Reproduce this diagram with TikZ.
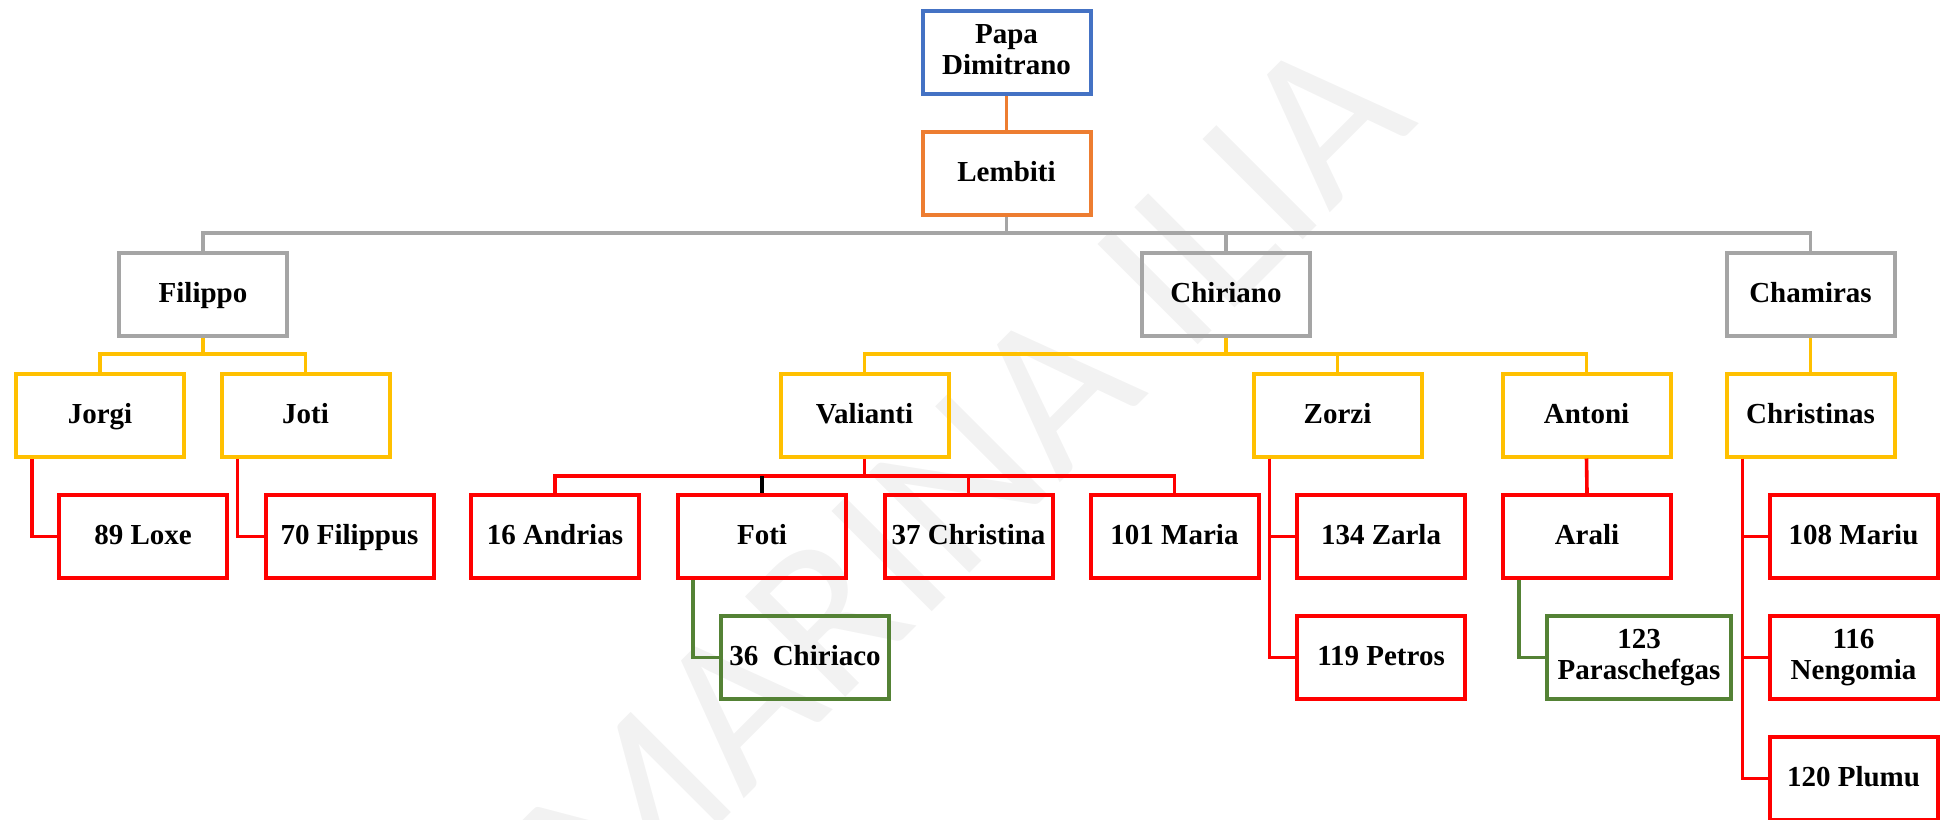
\documentclass[tikz,border=0pt]{standalone}
\usepackage{fontspec}
\setmainfont{Liberation Serif}
\newfontfamily\wmfont{Carlito}
\usepackage{tikz}
\definecolor{cblue}{RGB}{68,114,196}
\definecolor{corange}{RGB}{237,125,49}
\definecolor{cgray}{RGB}{165,165,165}
\definecolor{cyellow}{RGB}{255,192,0}
\definecolor{cred}{RGB}{255,0,0}
\definecolor{cgreen}{RGB}{84,130,53}
\newcommand{\boxstrut}{\rule[-3.45pt]{0pt}{15pt}}
\tikzset{
  font=\bfseries\fontsize{14.5}{15.5}\selectfont,
  % General person box
  pnode/.style={draw, shape=rectangle, line width=2pt, minimum width=84pt,
    minimum height=41.5pt, inner sep=1pt, align=center,
    execute at begin node=\boxstrut, execute at end node=\boxstrut},
  % Boxes by generation
  bnode/.style={pnode, draw=cblue},
  onode/.style={pnode, draw=corange},
  anode/.style={pnode, draw=cgray},
  ynode/.style={pnode, draw=cyellow},
  rnode/.style={pnode, draw=cred},
  gnode/.style={pnode, draw=cgreen},
  % Connectors
  c-/.style={-, line width=1.8pt},
  % Watermark
  wmark/.style={font=\wmfont\mdseries\fontsize{110.5}{110.5}\selectfont,
    text=black!5, rotate=45, inner sep=0pt},
}

\begin{document}
\begin{tikzpicture}[x=0.5pt, y=-0.5pt]
  \path[use as bounding box, clip] (0,0) rectangle (1952,819);

  % watermark
  \node[wmark] (wm) at (965,478) {MARINA ILIA};

  % levels of the buses
  \coordinate (gbus) at (0,233);
  \coordinate (ybus) at (0,354);
  \coordinate (rbus) at (0,476);

  \node[bnode] (papa) at (1006.5,52.5) {Papa\\Dimitrano};
  \node[onode] (lembiti) at (1006.5,173.5) {Lembiti};

  \node[anode] (filippo) at (203,294) {Filippo};
  \node[anode] (chiriano) at (1226,294) {Chiriano};
  \node[anode] (chamiras) at (1810.5,294) {Chamiras};

  \node[ynode] (jorgi) at (100,415) {Jorgi};
  \node[ynode] (joti) at (305.5,415) {Joti};
  \node[ynode] (valianti) at (864.5,415) {Valianti};
  \node[ynode] (zorzi) at (1337.5,415) {Zorzi};
  \node[ynode] (antoni) at (1586.5,415) {Antoni};
  \node[ynode] (christinas) at (1810.5,415) {Christinas};

  \node[rnode] (loxe) at (143,536.5) {89 Loxe};
  \node[rnode] (filippus) at (349.5,536.5) {70 Filippus};
  \node[rnode] (andrias) at (555,536.5) {16 Andrias};
  \node[rnode] (foti) at (762,536.5) {Foti};
  \node[rnode] (christina) at (968.5,536.5) {37 Christina};
  \node[rnode] (maria) at (1174.5,536.5) {101 Maria};
  \node[rnode] (zarla) at (1381,536.5) {134 Zarla};
  \node[rnode] (arali) at (1587,536.5) {Arali};
  \node[rnode] (mariu) at (1853.5,536.5) {108 Mariu};

  \node[gnode] (chiriaco) at (805,657.5) {36\ \ Chiriaco};
  \node[rnode] (petros) at (1381,657.5) {119 Petros};
  \node[gnode, minimum width=92pt] (paraschefgas) at (1639,657.5) {123\\Paraschefgas};
  \node[rnode] (nengomia) at (1853.5,657.5) {116\\Nengomia};
  \node[rnode] (plumu) at (1853.5,778.5) {120 Plumu};

  % Papa -- Lembiti
  \draw[c-, corange] (papa.south) -- (lembiti.north);

  % Lembiti's sons
  \draw[c-, cgray] (filippo.north) |- (chamiras.north |- gbus) -- (chamiras.north);
  \draw[c-, cgray] (lembiti.south) -- (lembiti.south |- gbus);
  \draw[c-, cgray] (chiriano.north) -- (chiriano.north |- gbus);

  % grandsons
  \draw[c-, cyellow] (jorgi.north) |- (joti.north |- ybus) -- (joti.north);
  \draw[c-, cyellow] (filippo.south) -- (filippo.south |- ybus);
  \draw[c-, cyellow] (valianti.north) |- (antoni.north |- ybus) -- (antoni.north);
  \draw[c-, cyellow] (chiriano.south) -- (chiriano.south |- ybus);
  \draw[c-, cyellow] (zorzi.north) -- (zorzi.north |- ybus);
  \draw[c-, cyellow] (chamiras.south) -- (christinas.north);

  % Valianti's children
  \draw[c-, cred] (andrias.north) |- (maria.north |- rbus) -- (maria.north);
  \draw[c-, cred] (valianti.south) -- (valianti.south |- rbus);
  \draw[c-, cred] (christina.north) -- (christina.north |- rbus);
  \draw[c-, black] (foti.north) -- (foti.north |- rbus);

  % side branches
  \draw[c-, cred] ([xshift=9pt]jorgi.south west) |- (loxe.west);
  \draw[c-, cred] ([xshift=9pt]joti.south west) |- (filippus.west);
  \draw[c-, cred] ([xshift=9pt]zorzi.south west) |- (zarla.west);
  \draw[c-, cred] ([xshift=9pt]zorzi.south west) |- (petros.west);
  \draw[c-, cred] (antoni.south) -- (arali.north);
  \draw[c-, cred] ([xshift=9pt]christinas.south west) |- (mariu.west);
  \draw[c-, cred] ([xshift=9pt]christinas.south west) |- (nengomia.west);
  \draw[c-, cred] ([xshift=9pt]christinas.south west) |- (plumu.west);
  \draw[c-, cgreen] ([xshift=8.5pt]foti.south west) |- (chiriaco.west);
  \draw[c-, cgreen] ([xshift=9pt]arali.south west) |- (paraschefgas.west);
\end{tikzpicture}
\end{document}
